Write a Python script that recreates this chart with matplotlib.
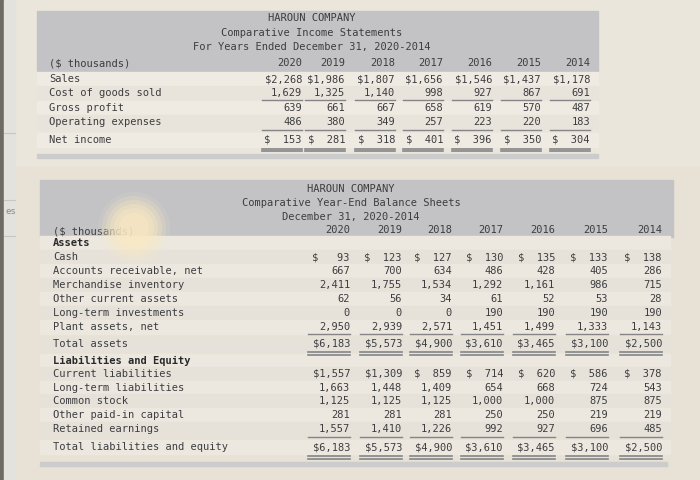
import matplotlib.pyplot as plt
from matplotlib.patches import Rectangle, Circle

# ---- data ----
years = ['2020', '2019', '2018', '2017', '2016', '2015', '2014']

inc_title = ['HAROUN COMPANY', 'Comparative Income Statements',
             'For Years Ended December 31, 2020-2014']
inc_labels = ['Sales', 'Cost of goods sold', 'Gross profit',
              'Operating expenses', 'Net income']
sales = [2268, 1986, 1807, 1656, 1546, 1437, 1178]
cogs = [1629, 1325, 1140, 998, 927, 867, 691]
gross = [639, 661, 667, 658, 619, 570, 487]
opex = [486, 380, 349, 257, 223, 220, 183]
net_income = [153, 281, 318, 401, 396, 350, 304]
inc_values = [sales, cogs, gross, opex, net_income]
inc_dollar = [True, False, False, False, True]

bal_title = ['HAROUN COMPANY', 'Comparative Year-End Balance Sheets',
             'December 31, 2020-2014']
bal_labels = ['Assets', 'Cash', 'Accounts receivable, net',
              'Merchandise inventory', 'Other current assets',
              'Long-term investments', 'Plant assets, net', 'Total assets',
              'Liabilities and Equity', 'Current liabilities',
              'Long-term liabilities', 'Common stock',
              'Other paid-in capital', 'Retained earnings',
              'Total liabilities and equity']
cash = [93, 123, 127, 130, 135, 133, 138]
receivables = [667, 700, 634, 486, 428, 405, 286]
inventory = [2411, 1755, 1534, 1292, 1161, 986, 715]
other_current = [62, 56, 34, 61, 52, 53, 28]
lt_invest = [0, 0, 0, 190, 190, 190, 190]
plant = [2950, 2939, 2571, 1451, 1499, 1333, 1143]
total_assets = [6183, 5573, 4900, 3610, 3465, 3100, 2500]
current_liab = [1557, 1309, 859, 714, 620, 586, 378]
lt_liab = [1663, 1448, 1409, 654, 668, 724, 543]
common_stock = [1125, 1125, 1125, 1000, 1000, 875, 875]
paid_in = [281, 281, 281, 250, 250, 219, 219]
retained = [1557, 1410, 1226, 992, 927, 696, 485]
total_le = [6183, 5573, 4900, 3610, 3465, 3100, 2500]
bal_values = [None, cash, receivables, inventory, other_current, lt_invest,
              plant, total_assets, None, current_liab, lt_liab, common_stock,
              paid_in, retained, total_le]
bal_dollar = [False, True, False, False, False, False, False, True,
              False, True, False, False, False, False, True]


def fmt(v, dollar):
    return f'${v:>5,}' if dollar else f'{v:,}'


# ---- figure ----
fig = plt.figure(figsize=(7, 4.8), dpi=100)
ax = fig.add_axes([0, 0, 1, 1])
ax.set_xlim(0, 700)
ax.set_ylim(480, 0)
ax.axis('off')

bg = '#e8e2d6'
band = '#c3c3c6'
ink = '#3d3d40'
rule = '#858588'
font = dict(family='DejaVu Sans Mono', fontsize=7.5, color=ink)

ax.add_patch(Rectangle((0, 0), 700, 480, color=bg, zorder=0))
ax.add_patch(Rectangle((0, 0), 700, 165, color='#ebe6dc', zorder=0))
# left edge of the page photo
ax.add_patch(Rectangle((0, 0), 4, 480, color='#6e6a64', zorder=1))
ax.add_patch(Rectangle((4, 0), 11, 480, color='#e4e2dc', zorder=1))
for yy in [133, 200, 236]:
    ax.plot([4, 15], [yy, yy], color='#c8c6c0', lw=0.8, zorder=2)
ax.text(5, 212, 'es', va='center', ha='left', family='DejaVu Sans Mono',
        fontsize=6.5, color='#8a8a8a', zorder=3)

# ---- income statement ----
ax.add_patch(Rectangle((37, 11), 561, 61, color=band, zorder=1))
ax.add_patch(Rectangle((37, 154), 561, 4, color='#cdcccc', zorder=1))
inc_rows = [79, 93, 108, 122, 140]
inc_right = [302, 345, 395, 443, 492, 541, 590]
for i, y in enumerate(inc_rows):
    shade = '#efebe3' if i % 2 == 0 else '#e8e4dc'
    ax.add_patch(Rectangle((37, y - 7), 561, 14, color=shade, zorder=1))
for line, y in zip(inc_title, [18, 33, 47]):
    ax.text(312, y, line, ha='center', va='center', zorder=3, **font)
ax.text(49, 64, '($ thousands)', ha='left', va='center', zorder=3, **font)
for x, yr in zip(inc_right, years):
    ax.text(x, 63, yr, ha='right', va='center', zorder=3, **font)
for label, vals, dol, y in zip(inc_labels, inc_values, inc_dollar, inc_rows):
    ax.text(49, y, label, ha='left', va='center', zorder=3, **font)
    for x, v in zip(inc_right, vals):
        ax.text(x, y, fmt(v, dol), ha='right', va='center', zorder=3, **font)
for x in inc_right:
    ax.plot([x - 40, x], [100, 100], color=rule, lw=1, zorder=3)
    ax.plot([x - 40, x], [129.5, 129.5], color=rule, lw=1, zorder=3)
    ax.plot([x - 40, x], [148.5, 148.5], color=rule, lw=1.2, zorder=3)
    ax.plot([x - 40, x], [151, 151], color=rule, lw=1.2, zorder=3)

# ---- balance sheet ----
ax.add_patch(Rectangle((40, 180), 633, 57, color=band, zorder=1))
ax.add_patch(Rectangle((40, 462), 627, 4, color='#cdcccc', zorder=1))
bal_rows = [243, 257, 271, 285, 299, 313, 327, 344,
            361, 374, 388, 401, 415, 429, 447]
bal_right = [350, 402, 452, 503, 555, 608, 662]
for i, y in enumerate(bal_rows):
    shade = '#ece8e0' if i % 2 == 0 else '#e6e2da'
    ax.add_patch(Rectangle((40, y - 7), 630, 14, color=shade, zorder=1))
for line, y in zip(bal_title, [189, 203, 217]):
    ax.text(351, y, line, ha='center', va='center', zorder=3, **font)
ax.text(53, 231, '($ thousands)', ha='left', va='center', zorder=3, **font)
for x, yr in zip(bal_right, years):
    ax.text(x, 230, yr, ha='right', va='center', zorder=3, **font)
for label, vals, dol, y in zip(bal_labels, bal_values, bal_dollar, bal_rows):
    if vals is None:
        ax.text(53, y, label, ha='left', va='center', zorder=3,
                fontweight='bold', **{**font, 'color': '#2a2a2a'})
        continue
    ax.text(53, y, label, ha='left', va='center', zorder=3, **font)
    for x, v in zip(bal_right, vals):
        ax.text(x, y, fmt(v, dol), ha='right', va='center', zorder=3, **font)
for x in bal_right:
    ax.plot([x - 42, x], [334, 334], color=rule, lw=1, zorder=3)
    ax.plot([x - 42, x], [352, 352], color=rule, lw=1.2, zorder=3)
    ax.plot([x - 42, x], [354.5, 354.5], color=rule, lw=1.2, zorder=3)
    ax.plot([x - 42, x], [437, 437], color=rule, lw=1, zorder=3)
    ax.plot([x - 42, x], [456, 456], color=rule, lw=1.2, zorder=3)
    ax.plot([x - 42, x], [458.5, 458.5], color=rule, lw=1.2, zorder=3)

# glare from the photo
for r, a in [(36, 0.12), (32, 0.18), (28, 0.25), (24, 0.32),
             (20, 0.4), (15, 0.45)]:
    ax.add_patch(Circle((134, 228), r, color='#fbe9c2', alpha=a, lw=0,
                        zorder=4))

fig.savefig('out.png', dpi=100)
